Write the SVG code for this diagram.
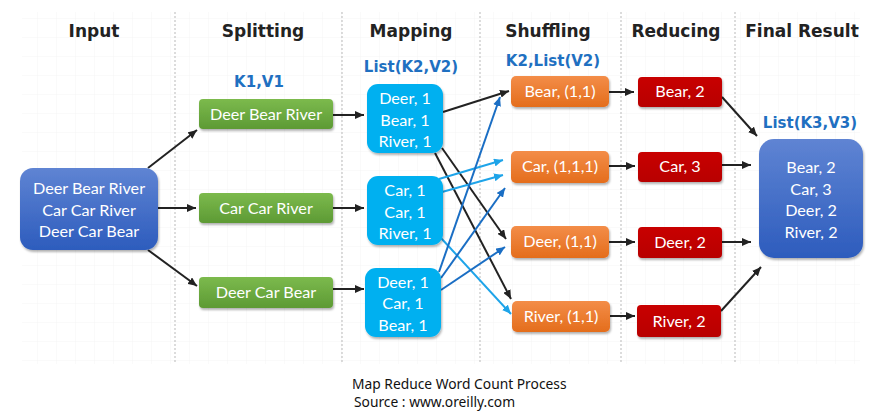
<svg xmlns="http://www.w3.org/2000/svg" width="877" height="417" viewBox="0 0 877 417">
<style>
.hdr{font-family:"DejaVu Sans",Verdana,sans-serif;font-weight:bold;font-size:17px;fill:#222;text-anchor:middle}
.kv{font-family:"DejaVu Sans",Verdana,sans-serif;font-weight:bold;font-size:15px;fill:#1f70c1;text-anchor:middle}
.t{font-family:Lato,"Open Sans",sans-serif;font-size:16.2px;fill:#fff;text-anchor:middle}
.cap{font-family:"Noto Sans","Open Sans",sans-serif;font-size:13.8px;fill:#111}
.div{stroke:#b9b9b9;stroke-width:1;stroke-dasharray:2,2}
.a{fill:none;stroke:#222;stroke-width:2;marker-end:url(#mk)}
.lb{fill:none;stroke:#1ea4e9;stroke-width:2;marker-end:url(#ml)}
.db{fill:none;stroke:#1a6ec4;stroke-width:2;marker-end:url(#md)}
.sh{filter:url(#shadow)}
</style>
<defs>
<pattern id="grid" width="19" height="19" patternUnits="userSpaceOnUse">
<path d="M19 0V19H0" fill="none" stroke="#f5f5f5" stroke-width="1"/>
</pattern>
<filter id="shadow" x="-10%" y="-10%" width="125%" height="130%">
<feDropShadow dx="1" dy="2" stdDeviation="1.2" flood-color="#000" flood-opacity="0.3"/>
</filter>
<linearGradient id="gIn" x1="0" y1="0" x2="0" y2="1"><stop offset="0" stop-color="#5f84d3"/><stop offset="1" stop-color="#2d5cbd"/></linearGradient>
<linearGradient id="gGr" x1="0" y1="0" x2="0" y2="1"><stop offset="0" stop-color="#7cba4d"/><stop offset="1" stop-color="#5d9a34"/></linearGradient>
<linearGradient id="gOr" x1="0" y1="0" x2="0" y2="1"><stop offset="0" stop-color="#f38d48"/><stop offset="1" stop-color="#e46d1c"/></linearGradient>
<linearGradient id="gRd" x1="0" y1="0" x2="0" y2="1"><stop offset="0" stop-color="#c80505"/><stop offset="1" stop-color="#b80000"/></linearGradient>
<marker id="mk" viewBox="0 0 10 10" refX="10" refY="5" markerWidth="4.5" markerHeight="4" orient="auto" preserveAspectRatio="none"><path d="M0,0L10,5L0,10z" fill="#222"/></marker>
<marker id="ml" viewBox="0 0 10 10" refX="10" refY="5" markerWidth="4.5" markerHeight="4" orient="auto" preserveAspectRatio="none"><path d="M0,0L10,5L0,10z" fill="#1ea4e9"/></marker>
<marker id="md" viewBox="0 0 10 10" refX="10" refY="5" markerWidth="4.5" markerHeight="4" orient="auto" preserveAspectRatio="none"><path d="M0,0L10,5L0,10z" fill="#1a6ec4"/></marker>
</defs>
<rect width="877" height="417" fill="#fff"/>
<rect x="22" y="12" width="838" height="352" fill="url(#grid)"/>
<g id="dividers">
<line class="div" x1="175" y1="12" x2="175" y2="364"/>
<line class="div" x1="342" y1="12" x2="342" y2="364"/>
<line class="div" x1="480" y1="12" x2="480" y2="364"/>
<line class="div" x1="621" y1="12" x2="621" y2="364"/>
<line class="div" x1="735" y1="12" x2="735" y2="364"/>
</g>
<g id="headers">
<text class="hdr" x="94" y="37">Input</text>
<text class="hdr" x="263" y="37">Splitting</text>
<text class="hdr" x="411" y="37">Mapping</text>
<text class="hdr" x="548" y="37">Shuffling</text>
<text class="hdr" x="676" y="37">Reducing</text>
<text class="hdr" x="802" y="37">Final Result</text>
<text class="kv" x="259" y="87">K1,V1</text>
<text class="kv" x="411" y="72">List(K2,V2)</text>
<text class="kv" x="553" y="66">K2,List(V2)</text>
<text class="kv" x="810" y="128">List(K3,V3)</text>
</g>
<g id="connectors">
<path class="a" d="M148,168L197,130"/>
<path class="a" d="M158,208L196,208"/>
<path class="a" d="M148,250L197,286"/>
<path class="a" d="M333,115L364,115"/>
<path class="a" d="M333,208L364,208"/>
<path class="a" d="M333,289L364,289"/>
<path class="a" d="M443,112L509,91"/>
<path class="a" d="M442,148L506,239"/>
<path class="a" d="M435,153L511,299"/>
<path class="lb" d="M439,179L503,160"/>
<path class="lb" d="M442,192L503,175"/>
<path class="lb" d="M441,238L511,314"/>
<path class="db" d="M439,272L500,97"/>
<path class="db" d="M441,278L505,188"/>
<path class="db" d="M441,290L505,247"/>
<path class="a" d="M609,92L634,92"/>
<path class="a" d="M609,166L635,166"/>
<path class="a" d="M609,242L635,242"/>
<path class="a" d="M609,316L635,316"/>
<path class="a" d="M722,97L757,136"/>
<path class="a" d="M722,165L751,165"/>
<path class="a" d="M722,242L751,242"/>
<path class="a" d="M721,311L761,267"/>
</g>
<g id="input">
<rect class="sh" x="20" y="168" width="138" height="82" rx="13" fill="url(#gIn)"/>
<text class="t" x="89" y="194">Deer Bear River</text>
<text class="t" x="89" y="216">Car Car River</text>
<text class="t" x="89" y="237">Deer Car Bear</text>
</g>
<g id="split1"><rect class="sh" x="199" y="99" width="134" height="30" rx="4" fill="url(#gGr)"/><text class="t" x="266" y="120">Deer Bear River</text></g>
<g id="split2"><rect class="sh" x="199" y="193" width="134" height="30" rx="4" fill="url(#gGr)"/><text class="t" x="266" y="214">Car Car River</text></g>
<g id="split3"><rect class="sh" x="199" y="277" width="134" height="31" rx="4" fill="url(#gGr)"/><text class="t" x="266" y="298">Deer Car Bear</text></g>
<g id="map1"><rect class="sh" x="367" y="84" width="76" height="69" rx="11" fill="#00b0f0"/>
<text class="t" x="405" y="104">Deer, 1</text><text class="t" x="405" y="126">Bear, 1</text><text class="t" x="405" y="147">River, 1</text></g>
<g id="map2"><rect class="sh" x="367" y="176" width="76" height="69" rx="11" fill="#00b0f0"/>
<text class="t" x="405" y="196">Car, 1</text><text class="t" x="405" y="218">Car, 1</text><text class="t" x="405" y="239">River, 1</text></g>
<g id="map3"><rect class="sh" x="365" y="268" width="76" height="69" rx="11" fill="#00b0f0"/>
<text class="t" x="403" y="288">Deer, 1</text><text class="t" x="403" y="309">Car, 1</text><text class="t" x="403" y="331">Bear, 1</text></g>
<g id="shuf1"><rect class="sh" x="511" y="76" width="98" height="31" rx="5" fill="url(#gOr)"/><text class="t" x="560" y="97">Bear, (1,1)</text></g>
<g id="shuf2"><rect class="sh" x="511" y="151" width="98" height="32" rx="5" fill="url(#gOr)"/><text class="t" x="560" y="172">Car, (1,1,1)</text></g>
<g id="shuf3"><rect class="sh" x="511" y="226" width="98" height="32" rx="5" fill="url(#gOr)"/><text class="t" x="560" y="247">Deer, (1,1)</text></g>
<g id="shuf4"><rect class="sh" x="512" y="301" width="98" height="31" rx="5" fill="url(#gOr)"/><text class="t" x="561" y="322">River, (1,1)</text></g>
<g id="red1"><rect class="sh" x="638" y="77" width="84" height="30" rx="4" fill="url(#gRd)"/><text class="t" x="680" y="97">Bear, 2</text></g>
<g id="red2"><rect class="sh" x="638" y="152" width="84" height="30" rx="4" fill="url(#gRd)"/><text class="t" x="680" y="172">Car, 3</text></g>
<g id="red3"><rect class="sh" x="638" y="227" width="84" height="31" rx="4" fill="url(#gRd)"/><text class="t" x="680" y="248">Deer, 2</text></g>
<g id="red4"><rect class="sh" x="637" y="305" width="84" height="32" rx="4" fill="url(#gRd)"/><text class="t" x="679" y="327">River, 2</text></g>
<g id="final"><rect class="sh" x="759" y="139" width="104" height="119" rx="15" fill="url(#gIn)"/>
<text class="t" x="811" y="173">Bear, 2</text><text class="t" x="811" y="195">Car, 3</text><text class="t" x="811" y="216">Deer, 2</text><text class="t" x="811" y="238">River, 2</text></g>
<g id="caption">
<text class="cap" x="352" y="388.5">Map Reduce Word Count Process</text>
<text class="cap" x="354" y="406.5">Source : www.oreilly.com</text>
</g>
</svg>
